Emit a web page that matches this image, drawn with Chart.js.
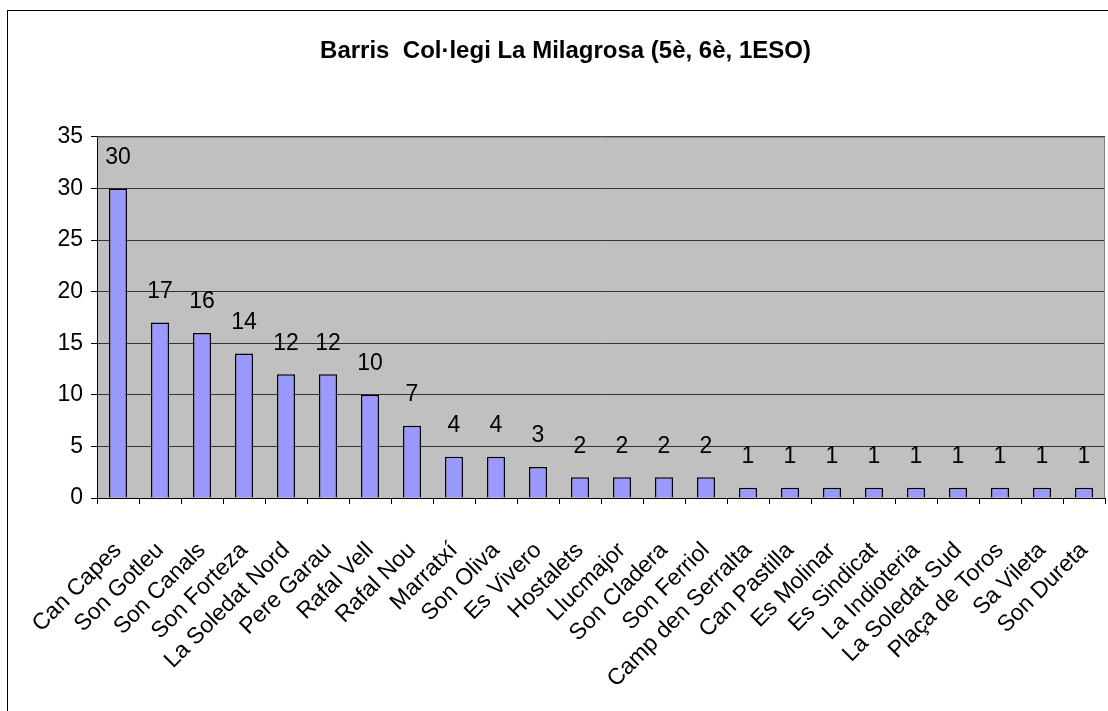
<!DOCTYPE html>
<html>
<head>
<meta charset="utf-8">
<script src="https://cdn.jsdelivr.net/npm/chart.js@4/dist/chart.umd.min.js"></script>
<style>
  html, body { margin: 0; padding: 0; background: #fff; overflow: hidden; }
  #wrap { position: relative; width: 1108px; height: 711px; }
</style>
</head>
<body>
<div id="wrap"><canvas id="chart"></canvas></div>
<script>
const barris = ['Can Capes', 'Son Gotleu', 'Son Canals', 'Son Forteza', 'La Soledat Nord', 'Pere Garau',
  'Rafal Vell', 'Rafal Nou', 'Marratxí', 'Son Oliva', 'Es Vivero', 'Hostalets', 'Llucmajor', 'Son Cladera',
  'Son Ferriol', 'Camp den Serralta', 'Can Pastilla', 'Es Molinar', 'Es Sindicat', 'La Indioteria',
  'La Soledat Sud', 'Plaça de Toros', 'Sa Vileta', 'Son Dureta']
const alumnes = [30, 17, 16, 14, 12, 12, 10, 7, 4, 4, 3, 2, 2, 2, 2, 1, 1, 1, 1, 1, 1, 1, 1, 1]
const yTicks = [0, 5, 10, 15, 20, 25, 30, 35]

const fontFamily = '"Liberation Sans", Arial, sans-serif'
const narrowFamily = '"Liberation Sans Narrow", "Arial Narrow", "Liberation Sans", sans-serif'

// gray plot area + outer frame
const plotBg = {
  id: 'plotBg',
  beforeDraw: (chart) => {
    const { ctx, chartArea: a } = chart
    ctx.save()
    ctx.fillStyle = '#c0c0c0'
    ctx.fillRect(a.left, a.top, a.right - a.left, a.bottom - a.top)
    ctx.strokeStyle = '#000'
    ctx.lineWidth = 1
    ctx.strokeRect(7.5, 10.5, 1300, 900)
    ctx.restore()
  },
  afterDraw: (chart) => {
    const { ctx, chartArea: a } = chart
    ctx.save()
    ctx.strokeStyle = '#808080'
    ctx.lineWidth = 1
    ctx.beginPath()
    ctx.moveTo(a.left, a.top + 0.5)
    ctx.lineTo(a.right - 0.5, a.top + 0.5)
    ctx.lineTo(a.right - 0.5, a.bottom)
    ctx.stroke()
    ctx.restore()
  }
}

// value labels above bars
const barLabels = {
  id: 'barLabels',
  afterDatasetsDraw: (chart) => {
    const { ctx } = chart
    const meta = chart.getDatasetMeta(0)
    ctx.save()
    ctx.font = `23px ${narrowFamily}`
    ctx.fillStyle = '#000'
    ctx.textAlign = 'center'
    ctx.textBaseline = 'middle'
    meta.data.forEach((bar, i) => {
      ctx.fillText(String(alumnes[i]), bar.x, bar.y - 31)
    })
    ctx.restore()
  }
}

const ctx = document.getElementById('chart')

const chart = new Chart(ctx, {
  type: 'bar',
  data: {
    labels: barris,
    datasets: [{
      data: alumnes,
      backgroundColor: '#9999ff',
      borderColor: '#000',
      borderWidth: 1.5,
      barPercentage: 0.43,
      categoryPercentage: 1
    }]
  },
  options: {
    responsive: true,
    maintainAspectRatio: false,
    animation: false,
    layout: { padding: { left: 26, right: 3, top: 0, bottom: 0 } },
    plugins: {
      legend: { display: false },
      tooltip: { enabled: false },
      title: {
        display: true,
        text: 'Barris  Col·legi La Milagrosa (5è, 6è, 1ESO)',
        color: '#000',
        font: { family: fontFamily, size: 24, weight: 'bold' },
        padding: { top: 37, bottom: 71 }
      }
    },
    scales: {
      y: {
        min: 0,
        max: 35,
        afterBuildTicks: (scale) => { scale.ticks = yTicks.map(v => ({ value: v })) },
        afterFit: (scale) => { scale.width = 71 },
        ticks: {
          color: '#000',
          padding: 8,
          font: { family: narrowFamily, size: 23 }
        },
        grid: {
          color: '#333',
          lineWidth: 1,
          tickLength: 6,
          tickColor: '#000'
        },
        border: { color: '#000', width: 1 }
      },
      x: {
        afterFit: (scale) => {
          scale.height = 213
          scale.paddingLeft = 0
          scale.paddingRight = 0
        },
        ticks: {
          color: '#000',
          minRotation: 45,
          maxRotation: 45,
          autoSkip: false,
          padding: 33,
          font: { family: narrowFamily, size: 23 }
        },
        grid: {
          drawOnChartArea: false,
          tickLength: 6,
          color: '#000'
        },
        border: { color: '#000', width: 1 }
      }
    }
  },
  plugins: [plotBg, barLabels]
})
</script>
</body>
</html>
